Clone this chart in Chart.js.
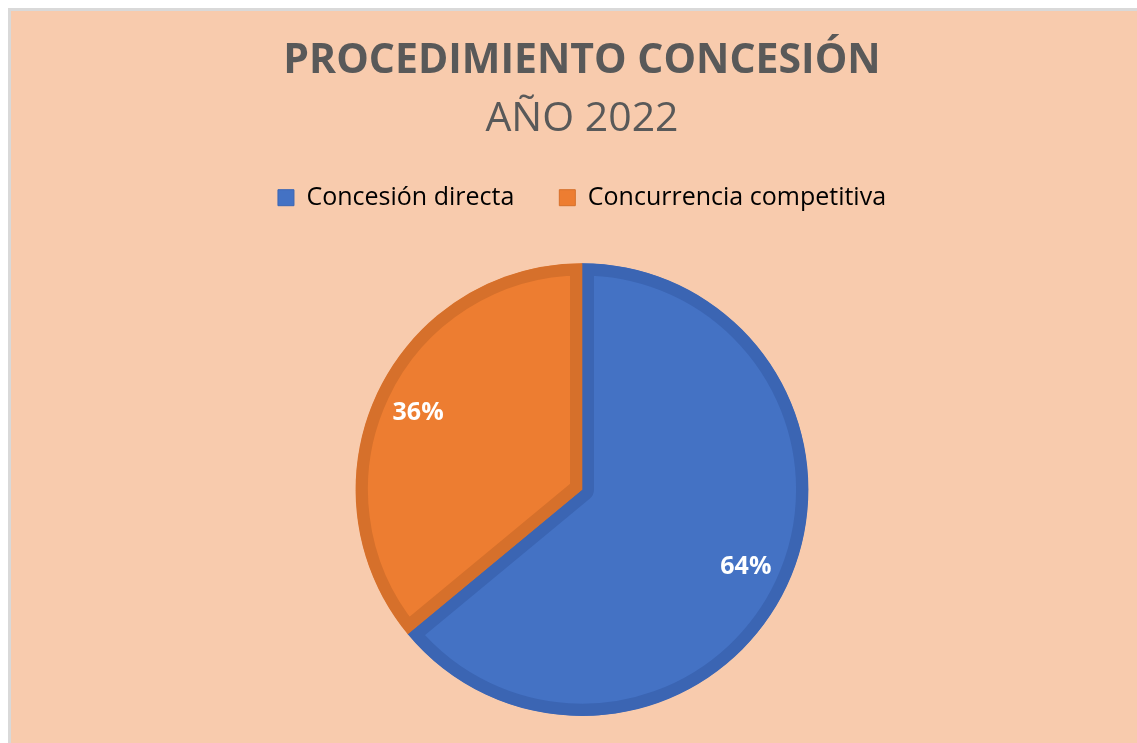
<!DOCTYPE html>
<html>
<head>
<meta charset="utf-8">
<script src="https://cdn.jsdelivr.net/npm/chart.js"></script>
<style>
  html, body { margin: 0; background: #ffffff; overflow: hidden; }
  #frame {
    position: absolute; left: 8px; top: 8px;
    width: 1200px; height: 800px;
    border-top: 3px solid #d9d9d9; border-left: 3px solid #d9d9d9;
    background: #f8cbad;
  }
  canvas { display: block; }
</style>
</head>
<body>
<div id="frame"><canvas id="pieChart" width="1126" height="732"></canvas></div>
<script>
const categories = ['Concesión directa', 'Concurrencia competitiva'];
const shares = [64, 36];
const fillColors = ['#4472c4', '#ed7d31'];
const edgeColors = ['#3b65b3', '#d6702b'];

// white percentage labels placed along each slice's middle angle
const sliceLabels = {
    id: 'sliceLabels',
    beforeLayout(chart) {
        // leave a gap between the legend and the pie, like the original
        const lg = chart.legend;
        if (lg && !lg._gapAdded) {
            const fit = lg.fit;
            lg.fit = function () { fit.call(this); this.height += 43; };
            lg._gapAdded = true;
        }
    },
    afterDatasetsDraw(chart) {
        const ctx = chart.ctx;
        const total = shares.reduce((a, b) => a + b, 0);
        chart.getDatasetMeta(0).data.forEach((arc, i) => {
            const p = arc.getProps(['x', 'y', 'startAngle', 'endAngle', 'outerRadius']);
            const mid = (p.startAngle + p.endAngle) / 2;
            const r = p.outerRadius * 0.8;
            ctx.save();
            ctx.font = 'bold 25px "Open Sans"';
            ctx.fillStyle = '#ffffff';
            ctx.textAlign = 'center';
            ctx.textBaseline = 'middle';
            ctx.fillText(Math.round(shares[i] / total * 100) + '%', p.x + Math.cos(mid) * r, p.y + Math.sin(mid) * r);
            ctx.restore();
        });
    }
};

const ctx = document.getElementById('pieChart').getContext('2d');
const chart = new Chart(ctx, {
    type: 'pie',
    data: {
        labels: categories,
        datasets: [{
            data: shares,
            backgroundColor: fillColors,
            borderColor: edgeColors,
            borderWidth: 12,
            borderAlign: 'inner'
        }]
    },
    plugins: [sliceLabels],
    options: {
        responsive: false,
        animation: false,
        layout: { padding: { left: 16, right: 0, top: 0, bottom: 27 } },
        plugins: {
            title: {
                display: true,
                text: 'PROCEDIMIENTO CONCESIÓN',
                color: '#595959',
                font: { family: '"Open Sans"', size: 41, weight: 'bold' },
                padding: { top: 26, bottom: 0 }
            },
            subtitle: {
                display: true,
                text: 'AÑO 2022',
                color: '#595959',
                font: { family: '"Open Sans"', size: 41, weight: 'normal', lineHeight: 1.0 },
                padding: { top: 13, bottom: 0 }
            },
            legend: {
                position: 'top',
                labels: {
                    color: '#595959',
                    font: { family: '"Open Sans"', size: 25 },
                    boxWidth: 16,
                    boxHeight: 16,
                    padding: 45,
                    generateLabels(chart) {
                        return categories.map((c, i) => ({
                            text: c,
                            fillStyle: fillColors[i],
                            strokeStyle: edgeColors[i],
                            lineWidth: 1,
                            index: i
                        }));
                    }
                }
            },
            tooltip: { enabled: false }
        }
    }
});
</script>
</body>
</html>
